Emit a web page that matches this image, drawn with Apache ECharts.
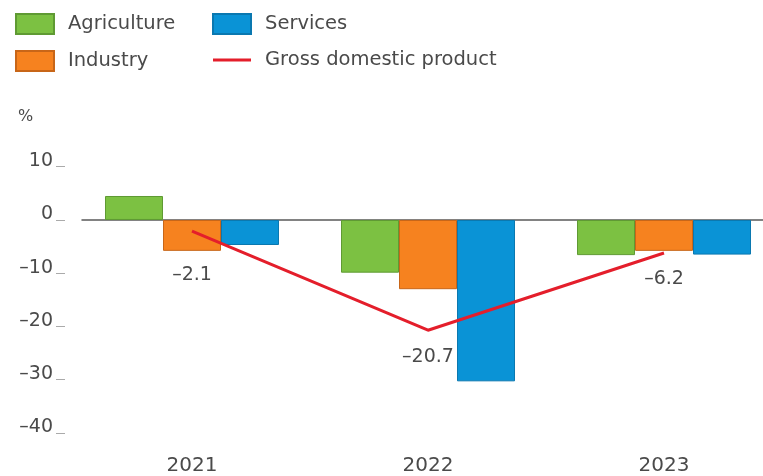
<!DOCTYPE html>
<html>
<head>
<meta charset="utf-8">
<script src="https://cdn.jsdelivr.net/npm/echarts@6/dist/echarts.min.js"></script>
<style>
  html, body { margin: 0; padding: 0; background: #ffffff; }
  #chart { width: 763px; height: 476px; }
</style>
</head>
<body>
<div id="chart"></div>
<script>
// Growth by sector, % change
const years = ['2021', '2022', '2023'];
const agriculture = [4.5, -9.9, -6.6];
const industry = [-5.8, -13.0, -5.8];
const services = [-4.7, -30.3, -6.5];
const gdp = [-2.1, -20.7, -6.2];
const gdpLabelDistance = [34, 17, 17];

const FONT = 'DejaVu Sans';
const TEXT = '#4a4a4a';
const dash = v => String(v).replace('-', '\u2013');

const chart = echarts.init(document.getElementById('chart'), null, { renderer: 'canvas' });

const gridBox = { top: 166.7, bottom: 43 };

const barSeries = (name, data, color, border) => ({
  name,
  type: 'bar',
  data,
  xAxisIndex: 0,
  yAxisIndex: 0,
  barWidth: 58,
  barGap: '0%',
  itemStyle: { color, borderColor: border, borderWidth: 1 },
  emphasis: { disabled: true }
});

const legendText = { fontFamily: FONT, fontSize: 19.5, color: TEXT, padding: [2, 0, 0, 9] };
const gdpIcon = 'path://M0,0 H40 V3 H0 Z';

chart.setOption({
  animation: false,
  textStyle: { fontFamily: FONT },
  title: {
    text: '%',
    left: 18,
    top: 109,
    padding: 0,
    textStyle: { fontFamily: FONT, fontSize: 16, fontWeight: 'normal', color: TEXT }
  },
  legend: [
    {
      orient: 'vertical', left: 15, top: 13, padding: 0,
      itemWidth: 38, itemHeight: 20, itemGap: 15,
      icon: 'rect',
      data: ['Agriculture', 'Industry'],
      textStyle: legendText
    },
    {
      orient: 'vertical', left: 212, top: 13, padding: 0,
      itemWidth: 38, itemHeight: 20, itemGap: 15,
      icon: 'rect',
      data: ['Services', { name: 'Gross domestic product', icon: gdpIcon }],
      textStyle: legendText
    }
  ],
  grid: [
    { left: 74, right: -19, top: gridBox.top, bottom: gridBox.bottom, outerBoundsMode: 'none' },
    { left: 82, right: 0, top: gridBox.top, bottom: gridBox.bottom, outerBoundsMode: 'none' }
  ],
  xAxis: [
    {
      type: 'category', gridIndex: 0, data: years,
      axisLine: { show: false, onZero: false },
      axisTick: { show: false },
      axisLabel: { fontFamily: FONT, fontSize: 20, color: TEXT, margin: 23 }
    },
    {
      // zero baseline running across the plot
      type: 'category', gridIndex: 1, data: years,
      axisLine: { show: true, onZero: true, lineStyle: { color: '#5a5a5a', width: 1.5 } },
      axisTick: { show: false },
      axisLabel: { show: false }
    }
  ],
  yAxis: [
    {
      type: 'value', gridIndex: 0, min: -40, max: 10, interval: 10,
      offset: 9,
      axisLine: { show: false },
      axisTick: { show: true, length: 9, lineStyle: { color: '#aaa' } },
      splitLine: { show: false },
      axisLabel: {
        fontFamily: FONT, fontSize: 19, color: TEXT, margin: 12,
        verticalAlign: 'bottom', lineHeight: 11,
        formatter: v => dash(v)
      }
    },
    {
      type: 'value', gridIndex: 1, min: -40, max: 10, interval: 10,
      show: false
    }
  ],
  series: [
    barSeries('Agriculture', agriculture, '#7cc142', '#5f9a33'),
    barSeries('Industry', industry, '#f6821f', '#c86618'),
    barSeries('Services', services, '#0a93d6', '#0a78b0'),
    {
      name: 'Gross domestic product',
      type: 'line',
      xAxisIndex: 0,
      yAxisIndex: 0,
      symbol: 'circle',
      symbolSize: 0.1,
      showSymbol: true,
      z: 5,
      lineStyle: { color: '#e41e2b', width: 3 },
      itemStyle: { color: '#e41e2b' },
      data: gdp.map((v, i) => ({ value: v, label: { distance: gdpLabelDistance[i] } })),
      label: {
        show: true,
        position: 'bottom',
        fontFamily: FONT,
        fontSize: 19,
        color: TEXT,
        formatter: p => dash(p.value)
      },
      emphasis: { disabled: true }
    }
  ]
});
</script>
</body>
</html>
